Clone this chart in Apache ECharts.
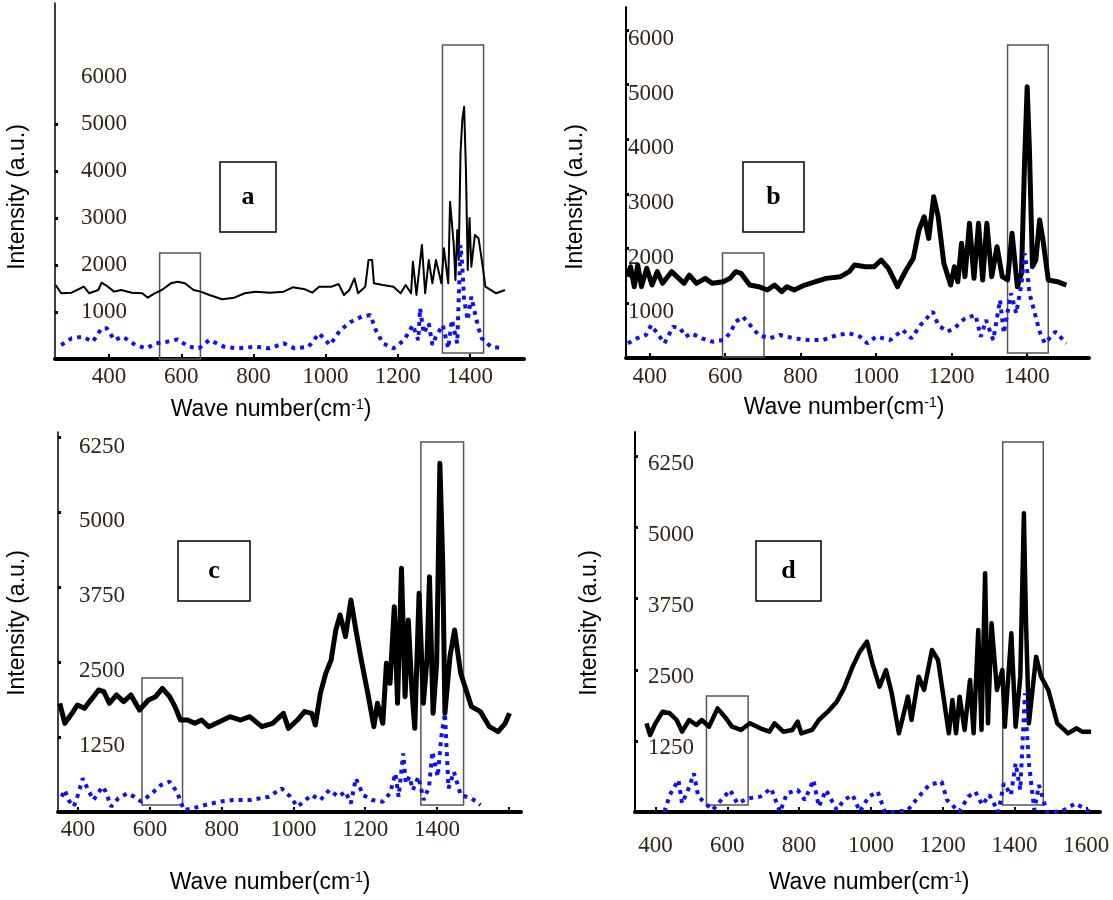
<!DOCTYPE html>
<html>
<head>
<meta charset="utf-8">
<title>Raman spectra a-d</title>
<script src="https://cdn.jsdelivr.net/npm/echarts@6/dist/echarts.min.js"></script>
<style>
  html, body { margin: 0; padding: 0; background: #fff; }
  #chart { width: 1113px; height: 900px; }
</style>
</head>
<body>
<div id="chart"></div>
<script>
// values: [wave number (cm-1), intensity (a.u.)]
const blackA = [[252,1574],[267,1398],[296,1411],[330,1539],[345,1398],[370,1468],[379,1624],[394,1553],[414,1433],[433,1468],[463,1411],[492,1398],[507,1305],[526,1398],[546,1468],[571,1610],[590,1645],[610,1610],[634,1468],[654,1433],[678,1362],[713,1270],[747,1305],[776,1398],[806,1433],[845,1411],[884,1433],[909,1525],[943,1482],[963,1411],[982,1539],[1017,1539],[1036,1596],[1051,1362],[1066,1468],[1080,1716],[1090,1398],[1110,1539],[1119,2106],[1129,2106],[1134,1610],[1159,1574],[1188,1539],[1208,1398],[1222,1574],[1237,1398],[1242,2070],[1252,1362],[1267,2426],[1276,1398],[1286,2106],[1296,1610],[1306,2106],[1321,1610],[1328,2355],[1340,1610],[1345,3347],[1355,2461],[1360,1681],[1365,2745],[1369,2106],[1374,4376],[1379,5085],[1384,5368],[1389,4050],[1394,1894],[1399,3000],[1404,1965],[1414,2639],[1424,2568],[1434,2050],[1443,1539],[1473,1398],[1497,1468]];
const blueA = [[267,298],[296,440],[326,475],[355,369],[379,652],[394,652],[414,404],[438,475],[473,298],[502,227],[531,333],[561,369],[590,418],[620,262],[649,227],[678,404],[718,262],[757,227],[806,262],[845,227],[884,333],[914,227],[953,262],[982,546],[1012,298],[1041,617],[1071,794],[1100,901],[1124,936],[1139,617],[1159,333],[1188,227],[1218,404],[1242,723],[1257,400],[1262,1078],[1272,546],[1286,759],[1296,300],[1306,475],[1325,723],[1340,227],[1350,830],[1365,333],[1374,2426],[1379,1965],[1384,1255],[1394,830],[1404,1326],[1414,972],[1424,652],[1433,440],[1458,262],[1492,227]];

const blackB = [[340,1487],[349,1669],[359,1304],[368,1700],[378,1304],[392,1639],[406,1334],[420,1578],[434,1365],[458,1578],[477,1456],[491,1365],[505,1517],[524,1365],[547,1456],[566,1365],[595,1395],[613,1456],[628,1578],[642,1548],[665,1334],[689,1304],[712,1243],[731,1334],[750,1213],[764,1304],[783,1243],[811,1334],[840,1395],[868,1456],[906,1487],[929,1578],[943,1700],[972,1669],[995,1669],[1014,1791],[1033,1639],[1057,1304],[1080,1609],[1099,1822],[1114,2340],[1128,2583],[1140,2187],[1153,2949],[1165,2583],[1180,1730],[1198,1334],[1208,1669],[1217,1395],[1227,2096],[1236,1487],[1248,2462],[1260,1456],[1272,2462],[1283,1426],[1294,2462],[1307,1487],[1321,2035],[1335,1487],[1349,1426],[1361,2279],[1375,1304],[1386,1548],[1394,3558],[1401,4960],[1407,3802],[1415,1669],[1424,1791],[1434,2523],[1443,2157],[1457,1426],[1481,1395],[1505,1334]];
const blueB = [[342,268],[366,359],[390,420],[404,603],[420,451],[439,268],[462,573],[481,542],[495,390],[510,451],[538,359],[566,298],[595,329],[613,451],[628,664],[647,755],[666,603],[689,420],[717,359],[745,420],[783,359],[821,329],[859,329],[897,420],[929,451],[958,390],[977,268],[1000,390],[1038,329],[1071,512],[1094,359],[1118,603],[1151,847],[1165,603],[1189,481],[1208,542],[1236,725],[1264,786],[1278,390],[1292,694],[1311,329],[1329,1060],[1339,451],[1358,1182],[1372,816],[1386,1365],[1394,1913],[1400,1669],[1407,1182],[1419,877],[1434,481],[1448,268],[1476,481],[1505,268]];

const blackC = [[349,1814],[363,1480],[383,1647],[398,1786],[418,1730],[428,1814],[443,1925],[457,2036],[472,2008],[487,1814],[507,1953],[527,1841],[547,1953],[571,1702],[596,1869],[616,1925],[635,2064],[655,1925],[670,1758],[685,1535],[705,1535],[725,1480],[744,1535],[764,1424],[794,1508],[823,1591],[853,1535],[878,1591],[912,1424],[942,1480],[972,1647],[986,1396],[1011,1535],[1031,1675],[1051,1647],[1061,1452],[1075,1980],[1090,2314],[1105,2537],[1118,3037],[1130,3288],[1145,2926],[1160,3538],[1174,3037],[1189,2537],[1209,1925],[1224,1424],[1234,1814],[1249,1480],[1259,2481],[1269,2147],[1281,3427],[1290,1814],[1301,4066],[1311,1925],[1320,3204],[1330,2036],[1338,1396],[1350,3649],[1362,1814],[1372,2537],[1379,3927],[1389,1647],[1399,2481],[1408,5819],[1416,4150],[1422,1647],[1436,2592],[1449,3037],[1466,2314],[1496,1758],[1521,1675],[1546,1424],[1570,1341],[1590,1480],[1602,1647]];
const blueC = [[354,256],[363,367],[373,200],[388,89],[398,256],[413,562],[428,367],[443,200],[468,423],[477,339],[492,89],[512,228],[537,312],[556,256],[576,172],[606,312],[631,451],[655,506],[675,339],[695,33],[720,61],[754,117],[794,172],[833,200],[883,200],[932,256],[967,395],[991,256],[1011,89],[1051,284],[1075,200],[1100,367],[1125,256],[1145,339],[1160,145],[1174,562],[1194,284],[1219,200],[1249,172],[1269,312],[1284,645],[1293,256],[1306,979],[1313,478],[1323,590],[1333,367],[1348,590],[1363,200],[1378,423],[1387,1007],[1402,590],[1412,1257],[1422,1647],[1432,395],[1447,673],[1466,284],[1496,228],[1521,117]];

const blackD = [[375,1559],[385,1354],[400,1559],[420,1764],[440,1735],[459,1617],[474,1412],[494,1617],[514,1529],[529,1617],[549,1500],[573,1822],[593,1676],[613,1500],[638,1442],[663,1559],[692,1471],[717,1412],[732,1559],[756,1412],[781,1442],[796,1588],[806,1383],[836,1442],[855,1617],[880,1764],[905,1940],[925,2174],[949,2555],[969,2819],[989,2995],[1004,2614],[1024,2203],[1042,2496],[1058,2086],[1078,1383],[1103,2028],[1113,1617],[1133,2379],[1148,2145],[1170,2848],[1187,2672],[1202,2028],[1217,1383],[1227,1969],[1237,1383],[1247,2028],[1261,1442],[1276,2321],[1286,1383],[1299,3200],[1308,1442],[1318,4196],[1326,1559],[1336,3317],[1351,2145],[1366,2496],[1373,1500],[1391,3141],[1403,1500],[1416,2379],[1426,5251],[1432,3317],[1440,1559],[1460,2731],[1474,2379],[1494,2145],[1519,1559],[1549,1383],[1573,1471],[1588,1412],[1613,1412]];
const blueD = [[425,6],[440,299],[464,563],[474,152],[489,357],[507,680],[519,270],[539,152],[559,35],[583,211],[608,387],[628,152],[658,240],[692,270],[722,416],[747,0],[766,328],[796,387],[816,211],[840,563],[855,94],[875,387],[905,35],[925,211],[949,299],[969,6],[994,270],[1019,357],[1039,0],[1073,0],[1103,35],[1133,270],[1162,475],[1197,533],[1212,211],[1246,0],[1271,270],[1291,357],[1310,123],[1330,299],[1355,0],[1370,504],[1390,299],[1403,856],[1416,387],[1429,2086],[1433,1559],[1440,856],[1455,35],[1468,475],[1490,0],[1530,6],[1570,152],[1610,0]];

// boxed regions: [x from, x to, y from, y to]
const boxesA = [[540, 653, 0, 2255], [1324, 1438, 128, 6681]];
const boxesB = [[593, 703, 18, 1919], [1349, 1457, 91, 5722]];
const boxesC = [[578, 691, 117, 2236], [1355, 1474, 117, 6175]];
const boxesD = [[542, 658, 123, 2039], [1367, 1480, 123, 6505]];

const xLabels6 = [400, 600, 800, 1000, 1200, 1400];
const xLabels7 = [400, 600, 800, 1000, 1200, 1400, 1600];
const yLabelsK = [1000, 2000, 3000, 4000, 5000, 6000];
const yTicksA = [1000, 2000, 3000, 4000, 5000];
const yLabelsQ = [1250, 2500, 3750, 5000, 6250];
const panelLetters = ['a', 'b', 'c', 'd'];

const SERIF = '"Liberation Serif", "Times New Roman", serif';
const SANS = '"Liberation Sans", Arial, sans-serif';
const LABEL_COLOR = '#2e2418';
const plain = function (v) { return String(v); };

const panels = [
  { black: blackA, blue: blueA, boxes: boxesA, grid: { left: 55, top: 3, width: 469, height: 356 },
    xMin: 250, xMax: 1550, yMax: 7574, xTicks: xLabels6, xLabels: xLabels6, yTicks: yTicksA, yLabels: yLabelsK,
    lineW: 2, yAxisW: 1.5, yLabelMargin: 26, yShift: 0, xLabelMargin: 6,
    tag: [220, 162, 56, 70], xTitle: [271, 410], yTitle: [18, 197] },
  { black: blackB, blue: blueB, boxes: boxesB, grid: { left: 626, top: 7, width: 463, height: 351 },
    xMin: 337, xMax: 1565, yMax: 6417, xTicks: xLabels6, xLabels: xLabels6, yTicks: yLabelsK, yLabels: yLabelsK,
    lineW: 5, yAxisW: 2, yLabelMargin: 2, yShift: 9, xLabelMargin: 7,
    tag: [743, 162, 61, 70], xTitle: [844, 408], yTitle: [576, 197] },
  { black: blackC, blue: blueC, boxes: boxesC, grid: { left: 58, top: 432, width: 463, height: 380 },
    xMin: 344, xMax: 1634, yMax: 6342, xTicks: xLabels7, xLabels: xLabels6, yTicks: yLabelsQ, yLabels: yLabelsQ,
    lineW: 5, yAxisW: 1.5, yLabelMargin: 21, yShift: 9, xLabelMargin: 6,
    tag: [178, 541, 72, 60], xTitle: [270, 883], yTitle: [18, 623] },
  { black: blackD, blue: blueD, boxes: boxesD, grid: { left: 635, top: 432, width: 465, height: 380 },
    xMin: 343, xMax: 1638, yMax: 6680, xTicks: xLabels7, xLabels: xLabels7, yTicks: yLabelsQ, yLabels: yLabelsQ,
    lineW: 4.5, yAxisW: 2, yLabelMargin: 13, yShift: 7, xLabelMargin: 22,
    tag: [756, 541, 65, 60], xTitle: [869, 883], yTitle: [590, 623] }
];

const grids = [], xAxes = [], yAxes = [], series = [], graphics = [];

panels.forEach(function (p, i) {
  grids.push(Object.assign({ containLabel: false }, p.grid));
  xAxes.push({
    type: 'value', gridIndex: i, min: p.xMin, max: p.xMax,
    axisLine: { show: true, onZero: false, lineStyle: { color: '#000', width: 4 } },
    axisTick: { show: true, inside: true, length: 5, customValues: p.xTicks, lineStyle: { color: '#000', width: 2 } },
    axisLabel: { customValues: p.xLabels, formatter: plain, margin: p.xLabelMargin,
      fontFamily: SERIF, fontSize: 23, color: LABEL_COLOR },
    splitLine: { show: false }
  });
  // labels sit a little below their ticks in the original
  const yLabel = { inside: true, customValues: p.yLabels, formatter: plain, margin: p.yLabelMargin,
    fontFamily: SERIF, fontSize: 23, color: LABEL_COLOR };
  if (p.yShift > 0) {
    yLabel.verticalAlign = 'top';
    yLabel.lineHeight = p.yShift * 2;
  }
  yAxes.push({
    type: 'value', gridIndex: i, min: 0, max: p.yMax,
    axisLine: { show: true, onZero: false, lineStyle: { color: '#000', width: p.yAxisW } },
    axisTick: { show: true, inside: true, length: 3, customValues: p.yTicks, lineStyle: { color: '#000', width: 3 } },
    axisLabel: yLabel,
    splitLine: { show: false }
  });
  series.push({
    type: 'line', xAxisIndex: i, yAxisIndex: i, data: p.black, symbol: 'none', z: 2,
    lineStyle: { color: '#000', width: p.lineW, join: 'round' }
  });
  series.push({
    type: 'line', xAxisIndex: i, yAxisIndex: i, data: p.blue, symbol: 'none', z: 3,
    lineStyle: { color: '#1010f5', width: 4, type: [4, 5], cap: 'butt' },
    markArea: {
      silent: true,
      itemStyle: { color: 'rgba(0,0,0,0)', borderColor: '#555', borderWidth: 1.5 },
      data: p.boxes.map(function (b) { return [{ coord: [b[0], b[2]] }, { coord: [b[1], b[3]] }]; })
    }
  });

  // panel letter box
  graphics.push({
    type: 'rect', shape: { x: p.tag[0], y: p.tag[1], width: p.tag[2], height: p.tag[3] },
    style: { fill: 'none', stroke: '#000', lineWidth: 1.5 }
  });
  graphics.push({
    type: 'text', x: p.tag[0] + p.tag[2] / 2, y: p.tag[1] + p.tag[3] / 2,
    style: { text: panelLetters[i], font: 'bold 26px ' + SERIF, fill: '#000',
      align: 'center', verticalAlign: 'middle', textAlign: 'center', textVerticalAlign: 'middle' }
  });
  // axis titles
  graphics.push({
    type: 'text', x: p.xTitle[0], y: p.xTitle[1],
    style: {
      text: '{m|Wave number(cm}{s|-1}{m|)}', fill: '#000',
      align: 'center', verticalAlign: 'middle', textAlign: 'center', textVerticalAlign: 'middle',
      rich: {
        m: { fontFamily: SANS, fontSize: 23, color: '#000' },
        s: { fontFamily: SANS, fontSize: 14, color: '#000', verticalAlign: 'top' }
      }
    }
  });
  graphics.push({
    type: 'text', x: p.yTitle[0], y: p.yTitle[1], rotation: Math.PI / 2,
    style: { text: 'Intensity (a.u.)', font: '23px ' + SANS, fill: '#000',
      align: 'center', verticalAlign: 'middle', textAlign: 'center', textVerticalAlign: 'middle' }
  });
});

const chart = echarts.init(document.getElementById('chart'), null, { renderer: 'canvas' });
chart.setOption({
  backgroundColor: '#fff',
  animation: false,
  grid: grids,
  xAxis: xAxes,
  yAxis: yAxes,
  series: series,
  graphic: graphics
});
window.onresize = function () { chart.resize(); };
</script>
</body>
</html>
